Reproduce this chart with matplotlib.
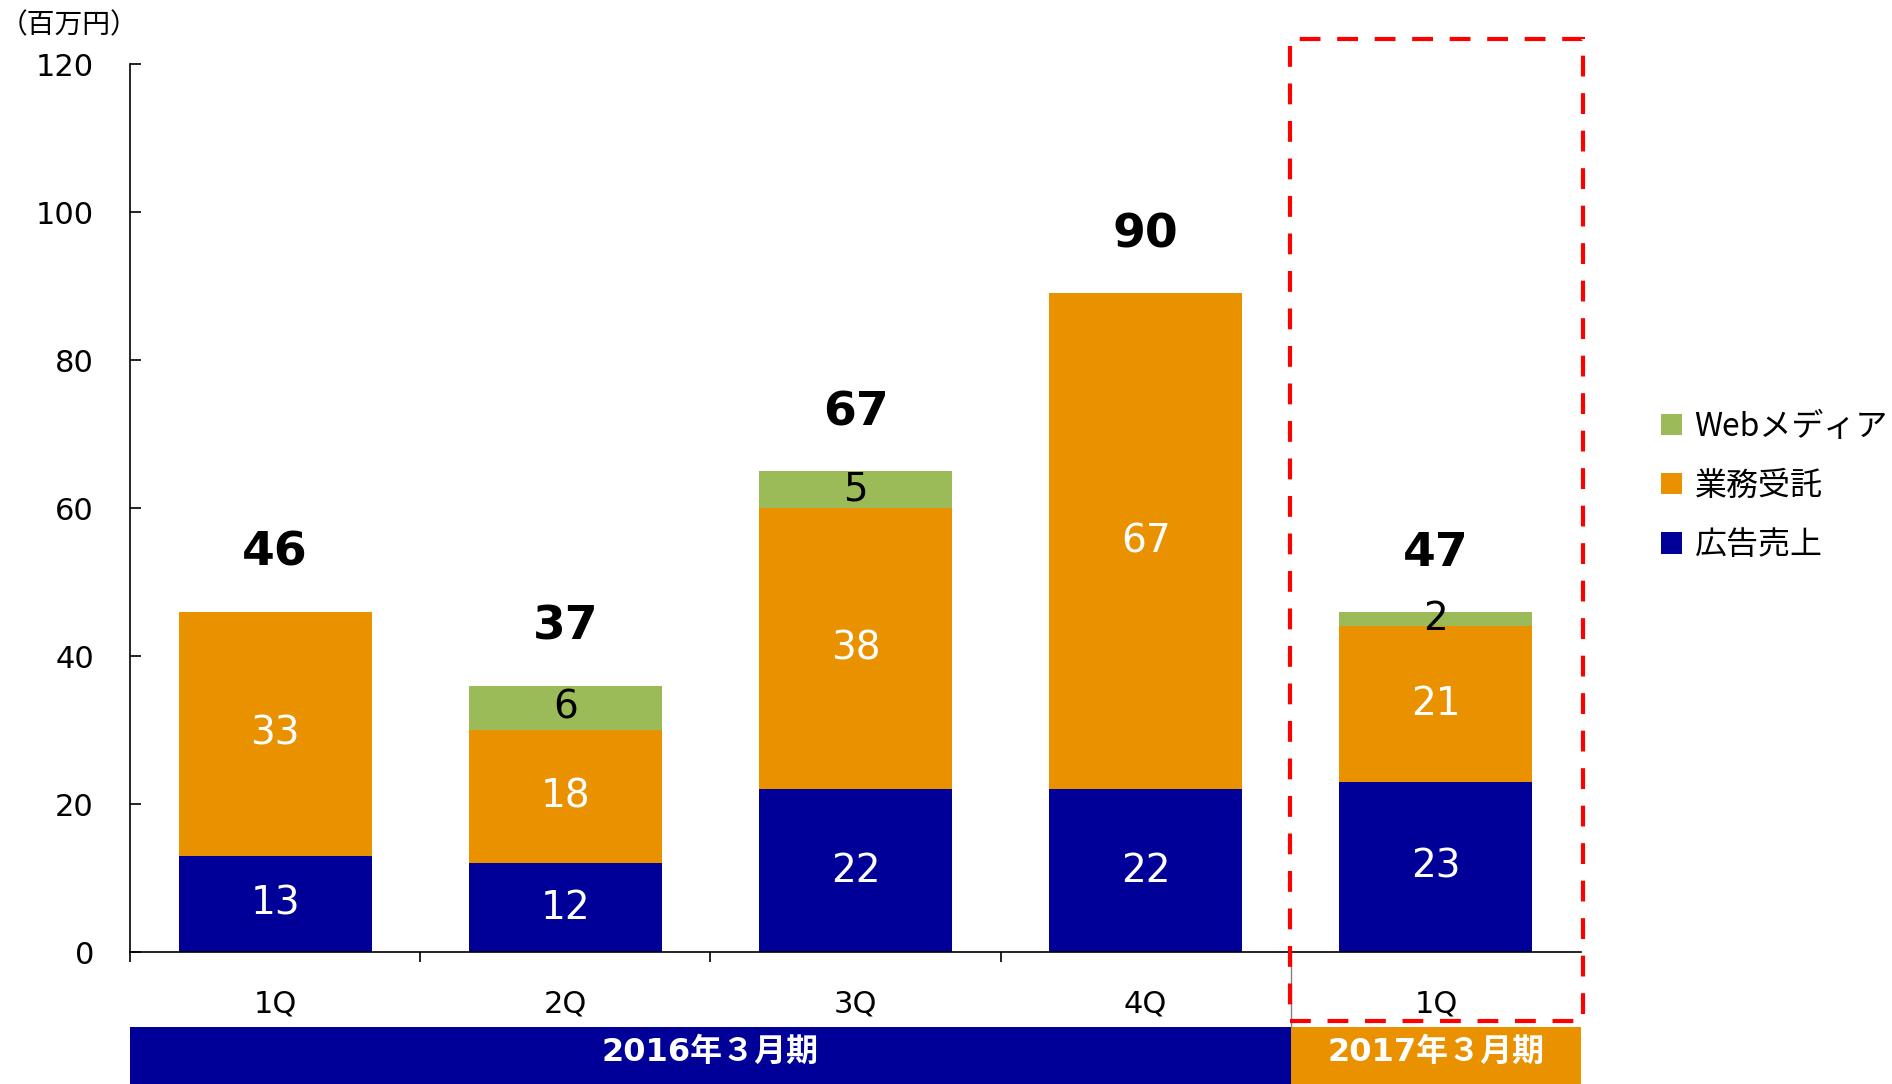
import matplotlib
matplotlib.use("Agg")
from matplotlib import pyplot as plt
from matplotlib.patches import Rectangle
from matplotlib.transforms import blended_transform_factory
import numpy as np

plt.rcParams['font.family'] = ['DejaVu Sans', 'Noto Sans CJK JP']

quarters = ["1Q", "2Q", "3Q", "4Q", "1Q"]
ad_sales = [13, 12, 22, 22, 23]        # 広告売上
contract = [33, 18, 38, 67, 21]        # 業務受託
web_media = [0, 6, 5, 0, 2]            # Webメディア
totals = [46, 37, 67, 90, 47]
periods = ["2016年３月期", "2017年３月期"]
period_spans = [(-0.5, 3.5), (3.5, 4.5)]

navy = "#000099"
orange = "#EA9100"
green = "#9BBB59"

fig = plt.figure(figsize=[18.92, 10.84], dpi=100)
ax = fig.add_axes([130 / 1892, 1 - 952 / 1084, (1581 - 130) / 1892, (952 - 64) / 1084])

x = np.arange(len(quarters))
w = 0.665
ad_arr = np.array(ad_sales)
con_arr = np.array(contract)
web_arr = np.array(web_media)

b1 = ax.bar(x, ad_arr, w, color=navy, label="広告売上", zorder=2)
b2 = ax.bar(x, con_arr, w, bottom=ad_arr, color=orange, label="業務受託", zorder=2)
b3 = ax.bar(x, web_arr, w, bottom=ad_arr + con_arr, color=green, label="Webメディア", zorder=2)

for i in range(len(x)):
    ax.text(x[i], ad_arr[i] / 2, str(ad_arr[i]), ha="center", va="center",
            color="white", fontsize=28, zorder=3)
    ax.text(x[i], ad_arr[i] + con_arr[i] / 2, str(con_arr[i]), ha="center", va="center",
            color="white", fontsize=28, zorder=3)
    if web_arr[i] > 0:
        ax.text(x[i], ad_arr[i] + con_arr[i] + web_arr[i] / 2, str(web_arr[i]),
                ha="center", va="center", color="black", fontsize=28, zorder=3)
    top = ad_arr[i] + con_arr[i] + web_arr[i]
    ax.annotate(str(totals[i]), (x[i], top), xytext=(0, 42), textcoords="offset points",
                ha="center", va="center", fontsize=34, fontweight="bold")

ax.set_xlim(-0.5, 4.5)
ax.set_ylim(0, 120)
ax.set_yticks(range(0, 121, 20))
ax.tick_params(axis="y", direction="in", length=8, width=1.2, labelsize=22, pad=26)
ax.set_xticks([-0.5, 0.5, 1.5, 2.5, 3.5])
ax.set_xticklabels([])
ax.set_xticks(x, minor=True)
ax.set_xticklabels(quarters, minor=True)
ax.tick_params(axis="x", which="major", direction="out", length=7, width=1.2)
ax.tick_params(axis="x", which="minor", length=0, labelsize=22, pad=27)
for s in ["top", "right"]:
    ax.spines[s].set_visible(False)
ax.spines["left"].set_linewidth(1.2)
ax.spines["bottom"].set_linewidth(1.2)

trans = blended_transform_factory(ax.transData, fig.transFigure)
band_colors = [navy, orange]
for (x0, x1), label, c in zip(period_spans, periods, band_colors):
    ax.add_patch(Rectangle((x0, 0), x1 - x0, 1 - 1027 / 1084, transform=trans,
                           facecolor=c, edgecolor="none", clip_on=False))
    ax.text((x0 + x1) / 2, 1 - 1052 / 1084, label, transform=trans, ha="center", va="center",
            color="white", fontsize=23, fontweight="bold")

# separator line between periods
ax.plot([3.5, 3.5], [1 - 952 / 1084, 1 - 1027 / 1084], transform=trans, color="gray",
        lw=1, clip_on=False)

# red dashed highlight box
ax.add_patch(Rectangle((3.497, 1 - 1021 / 1084), 1.01, (1021 - 39) / 1084, transform=trans,
                       facecolor="none", edgecolor="#FF0000", lw=3, linestyle=(0, (5, 4)),
                       clip_on=False, zorder=5))

fig.text(0, 1 - 25 / 1084, "（百万円）", fontsize=20, ha="left", va="center")

ax.legend(handles=[b3, b2, b1], loc="center left", bbox_to_anchor=(1645 / 1892, 1 - 486 / 1084),
          bbox_transform=fig.transFigure, frameon=False,
          prop={"family": ["Noto Sans CJK JP"], "size": 23}, handlelength=0.65,
          handleheight=0.65, handletextpad=0.4, labelspacing=0.85, borderpad=0)

fig.savefig("out.png", dpi=100)
